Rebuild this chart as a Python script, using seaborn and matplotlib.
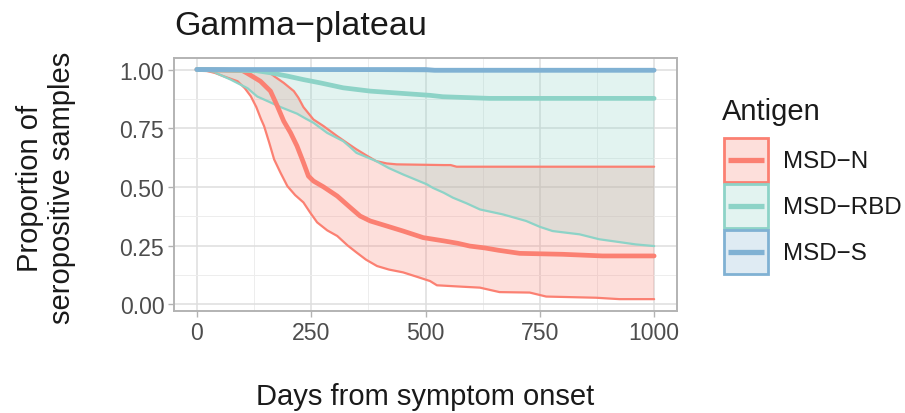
import numpy as np
import pandas as pd
import matplotlib
matplotlib.use("Agg")
import matplotlib.pyplot as plt
import seaborn as sns
from matplotlib.patches import Patch
from matplotlib.lines import Line2D
from matplotlib.colors import to_rgba
from matplotlib.ticker import MultipleLocator, FixedLocator
from matplotlib.legend_handler import HandlerBase

# ---------------- data ----------------
antigens = ["MSD\u2212N", "MSD\u2212RBD", "MSD\u2212S"]
palette = ["#FB8072", "#8DD3C7", "#80B1D3"]

n_mid_days = [0, 100, 111, 139, 161, 176, 190, 205, 219, 233, 244, 255, 277, 307, 335, 357, 379, 416,
              451, 495, 540, 570, 597, 630, 660, 706, 800, 887, 1000]
n_mid_vals = [1.0, 0.995, 0.983, 0.95, 0.908, 0.844, 0.78, 0.73, 0.674, 0.604, 0.546, 0.525, 0.50, 0.461,
              0.413, 0.376, 0.355, 0.333, 0.312, 0.284, 0.27, 0.26, 0.248, 0.24, 0.23, 0.217, 0.213, 0.206, 0.206]

n_up_days = [0, 140, 160, 170, 190, 212, 222, 233, 255, 277, 307, 330, 349, 370, 392, 415, 437, 540, 555, 568, 1000]
n_up_vals = [1.0, 0.995, 0.985, 0.97, 0.943, 0.908, 0.88, 0.84, 0.787, 0.759, 0.716, 0.685, 0.66, 0.635,
             0.61, 0.60, 0.596, 0.593, 0.593, 0.586, 0.586]

n_lo_days = [0, 20, 40, 60, 89, 105, 118, 130, 140, 147, 158, 169, 183, 198, 215, 233, 248, 263, 285, 307,
             330, 349, 370, 394, 420, 451, 480, 510, 525, 580, 619, 662, 728, 764, 873, 924, 1000]
n_lo_vals = [1.0, 0.995, 0.985, 0.97, 0.95, 0.92, 0.886, 0.84, 0.79, 0.759, 0.69, 0.617, 0.56, 0.503, 0.465,
             0.434, 0.39, 0.349, 0.315, 0.291, 0.25, 0.221, 0.19, 0.163, 0.148, 0.136, 0.118, 0.099, 0.081,
             0.075, 0.071, 0.052, 0.05, 0.033, 0.028, 0.022, 0.022]

rbd_mid_days = [0, 130, 161, 198, 233, 270, 320, 379, 451, 510, 538, 640, 1000]
rbd_mid_vals = [1.0, 0.995, 0.986, 0.972, 0.957, 0.943, 0.922, 0.908, 0.898, 0.89, 0.884, 0.877, 0.877]

rbd_up_days = [0, 1000]
rbd_up_vals = [1.0, 1.0]

rbd_lo_days = [0, 23, 37, 50, 74, 111, 132, 155, 183, 219, 237, 255, 285, 320, 335, 349, 392, 420, 451,
               503, 516, 540, 560, 590, 619, 669, 720, 750, 778, 837, 880, 924, 960, 1000]
rbd_lo_vals = [1.0, 0.995, 0.99, 0.978, 0.957, 0.92, 0.885, 0.865, 0.84, 0.812, 0.792, 0.773, 0.73, 0.695,
               0.67, 0.645, 0.61, 0.58, 0.553, 0.511, 0.496, 0.475, 0.454, 0.43, 0.404, 0.383, 0.355, 0.33,
               0.312, 0.298, 0.277, 0.265, 0.255, 0.248]

s_mid_days = [0, 500, 520, 1000]
s_mid_vals = [1.0, 1.0, 0.997, 0.997]
s_up_days = [0, 1000]
s_up_vals = [1.0, 1.0]
s_lo_days = [0, 300, 520, 1000]
s_lo_vals = [1.0, 0.995, 0.993, 0.993]

x_ticks = [0, 250, 500, 750, 1000]
y_ticks = [0.00, 0.25, 0.50, 0.75, 1.00]
y_tick_labels = ["0.00", "0.25", "0.50", "0.75", "1.00"]

series = [
    (antigens[0], palette[0], (n_mid_days, n_mid_vals), (n_lo_days, n_lo_vals), (n_up_days, n_up_vals)),
    (antigens[1], palette[1], (rbd_mid_days, rbd_mid_vals), (rbd_lo_days, rbd_lo_vals), (rbd_up_days, rbd_up_vals)),
    (antigens[2], palette[2], (s_mid_days, s_mid_vals), (s_lo_days, s_lo_vals), (s_up_days, s_up_vals)),
]

# ---------------- style ----------------
sns.set_theme(style="white")
plt.rcParams["font.family"] = ["Liberation Sans", "DejaVu Sans"]

W, H = 905, 414
fig = plt.figure(figsize=(W / 100, H / 100), dpi=100)
L, R, T, B = 174, 677, 59, 312
ax = fig.add_axes([L / W, 1 - B / H, (R - L) / W, (B - T) / H])

# ribbons
for name, col, mid, lo, up in series:
    grid = np.union1d(lo[0], up[0])
    ax.fill_between(grid, np.interp(grid, lo[0], lo[1]), np.interp(grid, up[0], up[1]),
                    facecolor=to_rgba(col, 0.25), edgecolor="none", zorder=2)

# bound lines
for name, col, mid, lo, up in series:
    for d, v in (lo, up):
        df = pd.DataFrame({"day": d, "prop": v})
        sns.lineplot(data=df, x="day", y="prop", ax=ax, color=col, lw=1.6,
                     estimator=None, sort=False, legend=False, zorder=3)

# median lines
for name, col, mid, lo, up in series:
    df = pd.DataFrame({"day": mid[0], "prop": mid[1]})
    sns.lineplot(data=df, x="day", y="prop", ax=ax, color=col, lw=3.4,
                 estimator=None, sort=False, legend=False, zorder=4)

ax.set_xlim(-50, 1050)
ax.set_ylim(-0.0285, 1.049)
ax.xaxis.set_major_locator(FixedLocator(x_ticks))
ax.xaxis.set_minor_locator(MultipleLocator(125))
ax.yaxis.set_major_locator(FixedLocator(y_ticks))
ax.yaxis.set_minor_locator(MultipleLocator(0.125))
ax.set_yticklabels(y_tick_labels)
ax.set_xticklabels([str(t) for t in x_ticks])
ax.set_axisbelow(True)
ax.grid(which="major", color="#DEDEDE", lw=1.1, zorder=0)
ax.grid(which="minor", color="#EDEDED", lw=0.7, zorder=0)
for s in ax.spines.values():
    s.set_color("#B3B3B3")
    s.set_linewidth(1.4)
ax.tick_params(which="major", length=4, width=1.0, color="#B3B3B3", labelcolor="#4D4D4D",
               labelsize=16.6, pad=3, bottom=True, left=True)
ax.tick_params(which="minor", length=0)
ax.set_xlabel("")
ax.set_ylabel("")

# titles
fig.text(L / W, 1 - 35 / H, "Gamma\u2212plateau", fontsize=24.5, color="#1A1A1A",
         ha="left", va="baseline")
fig.text((L + R) / 2 / W, 1 - 405 / H, "Days from symptom onset", fontsize=21,
         color="#1A1A1A", ha="center", va="baseline")
fig.text(46 / W, 1 - 188 / H, "Proportion of\nseropositive samples", fontsize=21,
         color="#1A1A1A", ha="center", va="center", rotation=90, multialignment="center",
         linespacing=1.15)


# legend
class ShortLineHandler(HandlerBase):
    def create_artists(self, legend, orig_handle, xdescent, ydescent, width, height, fontsize, trans):
        y = -ydescent + height / 2
        line = Line2D([-xdescent + 0.09 * width, -xdescent + 0.91 * width], [y, y],
                      color=orig_handle.get_color(), lw=orig_handle.get_linewidth(),
                      solid_capstyle="butt", transform=trans)
        return [line]


fig.text(722 / W, 1 - 120 / H, "Antigen", fontsize=21, color="#1A1A1A", ha="left", va="baseline")

handles = []
for name, col, *_ in series:
    handles.append((Patch(facecolor=to_rgba(col, 0.25), edgecolor=col, lw=2.0),
                    Line2D([], [], color=col, lw=3.8)))
leg = fig.legend(handles, antigens, loc="upper left", bbox_to_anchor=(724 / W, 1 - 139 / H),
                 frameon=False, fontsize=17.4,
                 handlelength=1.80, handleheight=2.42, labelspacing=0.085, handletextpad=0.64,
                 borderpad=0, borderaxespad=0, handler_map={Line2D: ShortLineHandler()})
for t in leg.get_texts():
    t.set_color("#1A1A1A")

fig.savefig("out.png", dpi=100)
